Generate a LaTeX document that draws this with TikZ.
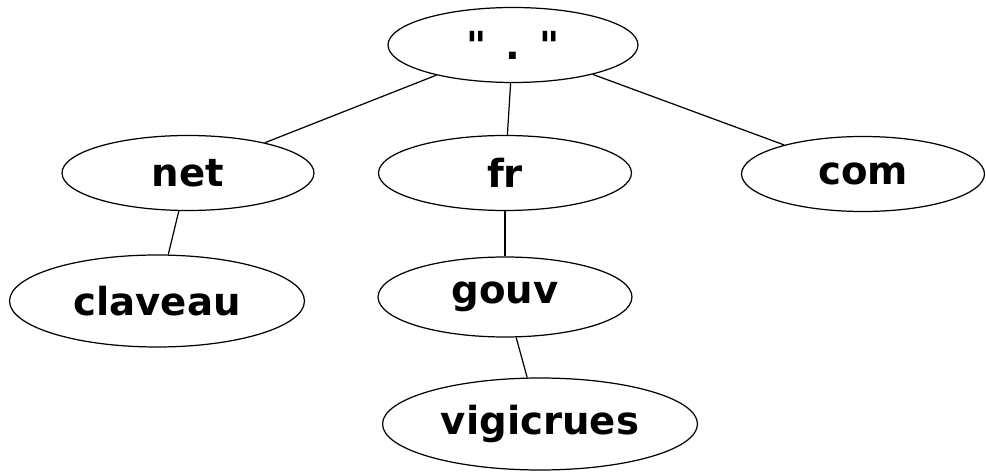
\documentclass[tikz,border=0pt]{standalone}
\usepackage{fontspec}
\setmainfont{DejaVu Sans}
\newfontfamily\rawfont{DejaVu Sans}% no TeX ligatures: straight quotes
\usetikzlibrary{shapes.geometric}

\tikzset{
  dom/.style={draw, ellipse, inner sep=0pt, font=\fontsize{22}{26}\selectfont\bfseries},
}

\begin{document}
\begin{tikzpicture}[x=0.02cm, y=-0.02cm, line width=0.7pt]
        \useasboundingbox (0,0) rectangle (986,472);
        %% DNS tree, one ellipse per label.
        \node[dom, minimum width=5cm, minimum height=1.5cm] (root) at (513,45) {\rawfont"\hspace{0.38cm}.\hspace{0.38cm}"};
        \node[dom, minimum width=5.04cm, minimum height=1.5cm] (net) at (188,173) {net};
        \node[dom, minimum width=5.06cm, minimum height=1.5cm] (fr) at (505,173) {fr};
        \node[dom, minimum width=4.86cm, minimum height=1.5cm] (com) at (863,174) {com};
        \node[dom, minimum width=5.9cm, minimum height=1.84cm] (claveau) at (157,301) {claveau};
        \node[dom, minimum width=5.08cm, minimum height=1.6cm] (gouv) at (505,297) {gouv};
        \node[dom, minimum width=6.3cm, minimum height=1.84cm] (vigicrues) at (540,424) {vigicrues};
        % edges
        \draw (root) -- (net);
        \draw (root) -- (fr);
        \draw (root) -- (com);
        \draw (net) -- (claveau);
        \draw (fr) -- (gouv);
        \draw (gouv) -- (vigicrues);
      \end{tikzpicture}
\end{document}
